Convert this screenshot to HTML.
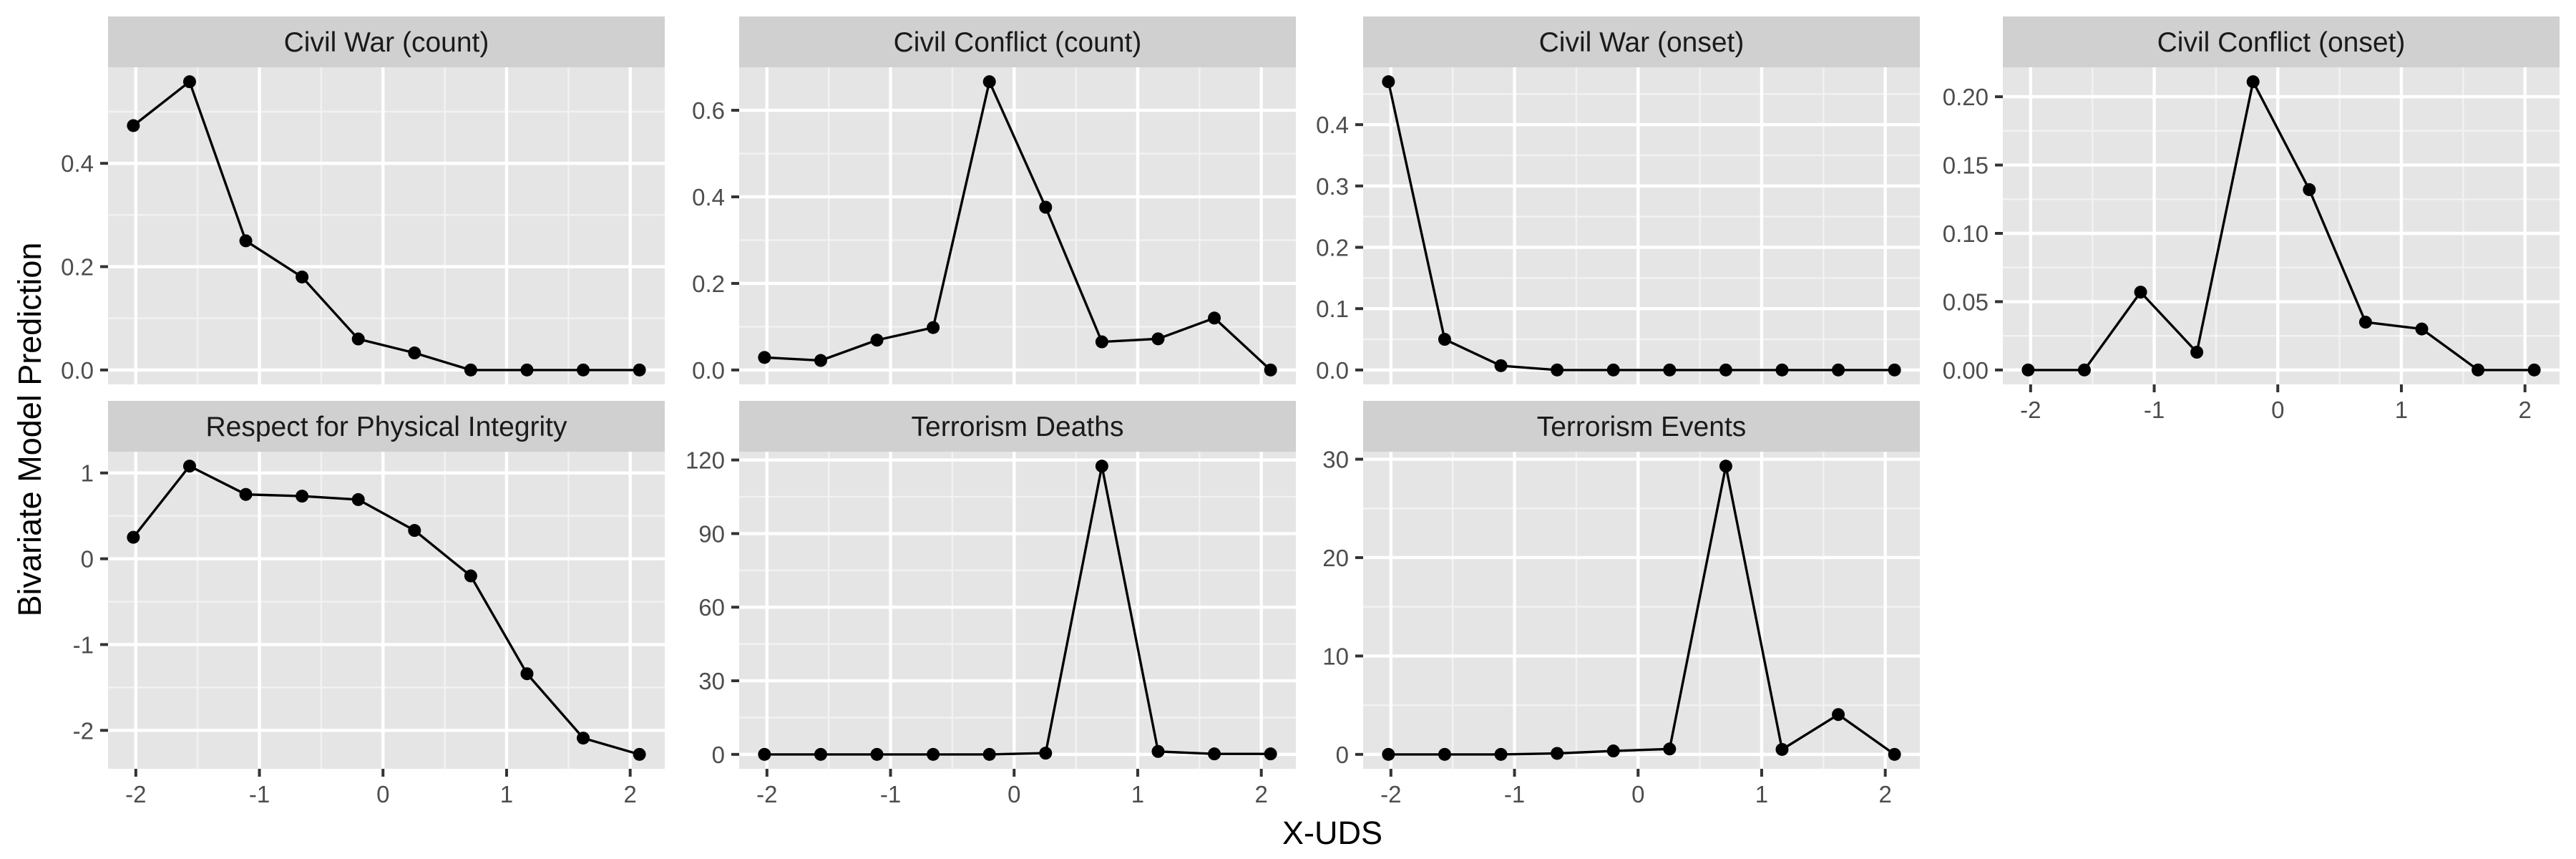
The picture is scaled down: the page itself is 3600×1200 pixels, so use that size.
<!DOCTYPE html>
<html><head><meta charset="utf-8">
<style>
html,body{margin:0;padding:0;background:#fff;}
svg{display:block;font-family:"Liberation Sans",Arial,sans-serif;}
</style></head>
<body>
<svg id="chart" width="3600" height="1200" viewBox="0 0 3600 1200" xmlns="http://www.w3.org/2000/svg">
<rect x="0" y="0" width="3600" height="1200" fill="#fff"/>
<text x="0" y="0" transform="translate(57,600) rotate(-90)" text-anchor="middle" font-size="45" fill="#000">Bivariate Model Prediction</text>
<text x="1862" y="1179" text-anchor="middle" font-size="45" fill="#000">X-UDS</text>
</svg>
<script>
// shared x values (X-UDS)
const xValues = [-2.02, -1.565, -1.11, -0.655, -0.2, 0.255, 0.71, 1.165, 1.62, 2.075];
const xTicks = [-2, -1, 0, 1, 2];
const xTickLabels = ["-2", "-1", "0", "1", "2"];

const panelTitles = ["Civil War (count)", "Civil Conflict (count)", "Civil War (onset)", "Civil Conflict (onset)", "Respect for Physical Integrity", "Terrorism Deaths", "Terrorism Events"];

const civilWarCount = [0.473, 0.558, 0.25, 0.18, 0.06, 0.033, 0, 0, 0, 0];
const civilConflictCount = [0.029, 0.022, 0.069, 0.098, 0.666, 0.376, 0.065, 0.072, 0.12, 0];
const civilWarOnset = [0.47, 0.05, 0.007, 0, 0, 0, 0, 0, 0, 0];
const civilConflictOnset = [0, 0, 0.057, 0.013, 0.211, 0.132, 0.035, 0.030, 0, 0];
const physicalIntegrity = [0.25, 1.08, 0.75, 0.73, 0.69, 0.33, -0.2, -1.34, -2.09, -2.28];
const terrorismDeaths = [0, 0, 0, 0, 0, 0.5, 117.5, 1.2, 0.2, 0.2];
const terrorismEvents = [0, 0, 0, 0.1, 0.35, 0.55, 29.3, 0.5, 4.05, 0];

const yTicks1 = [0, 0.2, 0.4];
const yTicks2 = [0, 0.2, 0.4, 0.6];
const yTicks3 = [0, 0.1, 0.2, 0.3, 0.4];
const yTicks4 = [0, 0.05, 0.10, 0.15, 0.20];
const yTicks5 = [-2, -1, 0, 1];
const yTicks6 = [0, 30, 60, 90, 120];
const yTicks7 = [0, 10, 20, 30];
const yLabels1 = ["0.0", "0.2", "0.4"];
const yLabels2 = ["0.0", "0.2", "0.4", "0.6"];
const yLabels3 = ["0.0", "0.1", "0.2", "0.3", "0.4"];
const yLabels4 = ["0.00", "0.05", "0.10", "0.15", "0.20"];
const yLabels5 = ["-2", "-1", "0", "1"];
const yLabels6 = ["0", "30", "60", "90", "120"];
const yLabels7 = ["0", "10", "20", "30"];

const NS = "http://www.w3.org/2000/svg";
const svg = document.getElementById("chart");
function mk(tag, attrs, parent) {
  const e = document.createElementNS(NS, tag);
  for (const k in attrs) e.setAttribute(k, attrs[k]);
  (parent || svg).appendChild(e);
  return e;
}

const layout = [
  {l:151, t:23, series:civilWarCount, ticks:yTicks1, labels:yLabels1, xaxis:false, name:"civil-war-count"},
  {l:1033, t:23, series:civilConflictCount, ticks:yTicks2, labels:yLabels2, xaxis:false, name:"civil-conflict-count"},
  {l:1905, t:23, series:civilWarOnset, ticks:yTicks3, labels:yLabels3, xaxis:false, name:"civil-war-onset"},
  {l:2799, t:23, series:civilConflictOnset, ticks:yTicks4, labels:yLabels4, xaxis:true, name:"civil-conflict-onset"},
  {l:151, t:560, series:physicalIntegrity, ticks:yTicks5, labels:yLabels5, xaxis:true, name:"physical-integrity"},
  {l:1033, t:560, series:terrorismDeaths, ticks:yTicks6, labels:yLabels6, xaxis:true, name:"terrorism-deaths"},
  {l:1905, t:560, series:terrorismEvents, ticks:yTicks7, labels:yLabels7, xaxis:true, name:"terrorism-events"}
];
const W = 778, STRIP = 71, PH = 443;

layout.forEach((p, i) => {
  const g = mk("g", {});
  
  
  const px0 = p.l, py0 = p.t + STRIP, py1 = py0 + PH;
  const xmin = Math.min(...xValues), xmax = Math.max(...xValues);
  const xr = xmax - xmin, xlo = xmin - 0.05 * xr, xhi = xmax + 0.05 * xr;
  const ymin = Math.min(...p.series), ymax = Math.max(...p.series);
  const yr = ymax - ymin, ylo = ymin - 0.05 * yr, yhi = ymax + 0.05 * yr;
  const sx = v => px0 + (v - xlo) / (xhi - xlo) * W;
  const sy = v => py1 - (v - ylo) / (yhi - ylo) * PH;

  const strip = mk("rect", {x:px0, y:p.t, width:W, height:STRIP, fill:"#d0d0d0"}, g);
  
  
  const st = mk("text", {x:px0 + W/2, y:p.t + 49, "text-anchor":"middle", "font-size":"39", fill:"#1a1a1a"}, g);
  st.textContent = panelTitles[i];
  
  

  const bg = mk("rect", {x:px0, y:py0, width:W, height:PH, fill:"#e5e5e5"}, g);
  
  

  // minor grid
  const ystep = p.ticks[1] - p.ticks[0];
  for (let k = -1; k < p.ticks.length; k++) {
    const v = p.ticks[0] + (k + 0.5) * ystep;
    if (v > ylo && v < yhi) {
      const ln = mk("line", {x1:px0, x2:px0+W, y1:sy(v), y2:sy(v), stroke:"#f2f2f2", "stroke-width":"2.4"}, g);
      
      
    }
  }
  for (let k = -1; k < xTicks.length; k++) {
    const v = xTicks[0] + (k + 0.5);
    if (v > xlo && v < xhi) {
      const ln = mk("line", {x1:sx(v), x2:sx(v), y1:py0, y2:py1, stroke:"#f2f2f2", "stroke-width":"2.4"}, g);
      
      
    }
  }
  // major grid + y ticks
  p.ticks.forEach((v, j) => {
    const y = sy(v);
    const ln = mk("line", {x1:px0, x2:px0+W, y1:y, y2:y, stroke:"#fff", "stroke-width":"4.4"}, g);
    
    
    const tk = mk("line", {x1:px0-11, x2:px0, y1:y, y2:y, stroke:"#333", "stroke-width":"4"}, g);
    
    
    const tl = mk("text", {x:px0-20, y:y+12, "text-anchor":"end", "font-size":"33", fill:"#4d4d4d"}, g);
    tl.textContent = p.labels[j];
    
    
  });
  xTicks.forEach((v, j) => {
    const x = sx(v);
    const ln = mk("line", {x1:x, x2:x, y1:py0, y2:py1, stroke:"#fff", "stroke-width":"4.4"}, g);
    
    
    if (p.xaxis) {
      const tk = mk("line", {x1:x, x2:x, y1:py1, y2:py1+11, stroke:"#333", "stroke-width":"4"}, g);
      
      
      const tl = mk("text", {x:x, y:py1+47, "text-anchor":"middle", "font-size":"33", fill:"#4d4d4d"}, g);
      tl.textContent = xTickLabels[j];
      
      
    }
  });
  // line
  const d = p.series.map((v, j) => (j ? "L" : "M") + sx(xValues[j]).toFixed(1) + "," + sy(v).toFixed(1)).join(" ");
  const path = mk("path", {d:d, fill:"none", stroke:"#000", "stroke-width":"3.4", "stroke-linejoin":"round"}, g);
  
  
  p.series.forEach((v, j) => {
    const c = mk("circle", {cx:sx(xValues[j]), cy:sy(v), r:"9", fill:"#000"}, g);
    
    
  });
});
</script>
</body></html>
